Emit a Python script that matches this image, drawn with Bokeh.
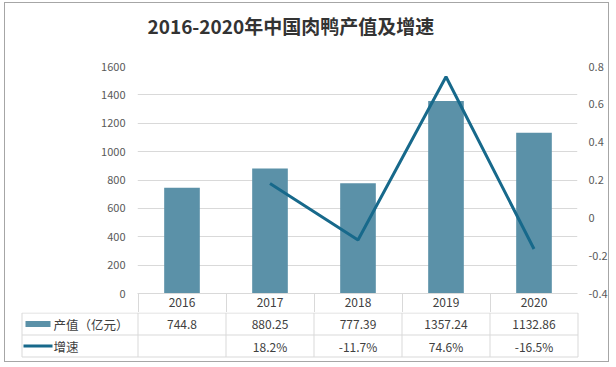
from bokeh.plotting import figure
from bokeh.models import Range1d, LinearAxis, FixedTicker, ColumnDataSource, Title
from bokeh.embed import file_html
from bokeh.resources import INLINE
from bokeh.core.properties import value

# ---------------- data ----------------
years = ["2016", "2017", "2018", "2019", "2020"]
output_value = [744.8, 880.25, 777.39, 1357.24, 1132.86]   # 产值（亿元）
growth = [None, 0.182, -0.117, 0.746, -0.165]             # 增速
left_ticks = [0, 200, 400, 600, 800, 1000, 1200, 1400, 1600]
right_ticks = [-0.4, -0.2, 0, 0.2, 0.4, 0.6, 0.8]
right_tick_labels = ["-0.4", "-0.2", "0", "0.2", "0.4", "0.6", "0.8"]
title_text = "2016-2020年中国肉鸭产值及增速"
series_names = ["产值（亿元）", "增速"]

# ---------------- style ----------------
FONT = "Noto Sans CJK SC"
BAR = "#5B91A8"
LINE = "#17698B"
GRID = "#D9D9D9"
TXT = "#404040"
AXT = "#595959"
FRAME = "1px solid #A6A6A6"

W = 605
PX = 88.0            # pixels per category
HP = 0.5 / PX        # half pixel, keeps 1px lines crisp
n = len(years)
centers = [i + 0.5 for i in range(n)]

# ---------------- chart ----------------
top = figure(width=W, height=310, x_range=Range1d(-HP, n - HP), y_range=Range1d(0, 1600),
             title=None, output_backend="svg", toolbar_location=None,
             min_border_left=132, min_border_right=33, min_border_top=63, min_border_bottom=20,
             styles={"margin-top": "2px", "margin-left": "4px",
                     "border-top": FRAME, "border-left": FRAME, "border-right": FRAME})
top.extra_y_ranges = {"g": Range1d(-0.4, 0.8)}
top.outline_line_color = None
top.background_fill_color = "white"
top.border_fill_color = "white"
top.xgrid.grid_line_color = None
top.ygrid.grid_line_color = GRID
top.ygrid.ticker = FixedTicker(ticks=left_ticks)

# spacer between frame and title, then the title itself
top.add_layout(Title(text=" ", text_font=FONT, text_font_size="1px", standoff=25), "above")
top.add_layout(Title(text=title_text, text_font=FONT, text_font_size="19px",
                     text_font_style="bold", text_color="#333333", align="left",
                     offset=10, standoff=0), "above")

# x axis = header row of the data table
xa = top.xaxis[0]
xa.ticker = FixedTicker(ticks=centers, minor_ticks=list(range(n + 1)))
xa.major_label_overrides = {c: y for c, y in zip(centers, years)}
xa.axis_line_color = GRID
xa.major_tick_line_color = None
xa.major_tick_out = 0
xa.major_tick_in = 0
xa.minor_tick_line_color = GRID
xa.minor_tick_out = 20
xa.minor_tick_in = 0
xa.major_label_text_font = FONT
xa.major_label_text_font_size = "12px"
xa.major_label_text_color = TXT
xa.major_label_standoff = -16

ya = top.yaxis[0]
ya.ticker = FixedTicker(ticks=left_ticks)
ya.axis_line_color = None
ya.major_tick_line_color = None
ya.major_tick_out = 0
ya.major_tick_in = 0
ya.minor_tick_line_color = None
ya.major_label_text_font = FONT
ya.major_label_text_font_size = "11px"
ya.major_label_text_color = AXT
ya.major_label_standoff = 12

ra = LinearAxis(y_range_name="g", ticker=FixedTicker(ticks=right_ticks))
ra.major_label_overrides = {t: l for t, l in zip(right_ticks, right_tick_labels)}
ra.axis_line_color = None
ra.major_tick_line_color = None
ra.major_tick_out = 0
ra.major_tick_in = 0
ra.minor_tick_line_color = None
ra.major_label_text_font = FONT
ra.major_label_text_font_size = "11px"
ra.major_label_text_color = AXT
ra.major_label_standoff = 11
top.add_layout(ra, "right")

src = ColumnDataSource(dict(x=centers, val=output_value))
top.vbar(x="x", top="val", width=0.405, source=src, fill_color=BAR, line_color=None)

gx = [c for c, g in zip(centers, growth) if g is not None]
gy = [g for g in growth if g is not None]
top.line(x=gx, y=gy, y_range_name="g", line_color=LINE, line_width=3)

# ---------------- data table (value rows) ----------------
X0 = 137.5   # page x of the first category boundary
XL = 5       # page x where the figures' content starts
bot = figure(width=W, height=50, x_range=Range1d((XL - X0) / PX, (XL + W - X0) / PX),
             y_range=Range1d(50, 0), output_backend="svg", toolbar_location=None,
             x_axis_location=None, y_axis_location=None,
             min_border_left=0, min_border_right=0, min_border_top=0, min_border_bottom=0,
             styles={"margin-left": "4px", "border-left": FRAME, "border-right": FRAME,
                     "border-bottom": FRAME})
bot.outline_line_color = None
bot.xgrid.grid_line_color = None
bot.ygrid.grid_line_color = None
bot.background_fill_color = "white"
bot.border_fill_color = "white"

left_edge = (21.5 - X0) / PX
row_lines = [0.5, 22.5, 44.5]
bot.segment(x0=[left_edge] * 3, x1=[n] * 3, y0=row_lines, y1=row_lines,
            line_color=GRID, line_width=1)
vx = [left_edge] + list(range(n + 1))
bot.segment(x0=vx, x1=vx, y0=[row_lines[0]] * len(vx), y1=[row_lines[-1]] * len(vx),
            line_color=GRID, line_width=1)

row_c = [(row_lines[i] + row_lines[i + 1]) / 2 for i in range(2)]
bot.text(x=centers, y=[row_c[0]] * n, text=[f"{v:g}" for v in output_value],
         text_font=value(FONT), text_font_size="12px", text_color=TXT,
         text_align="center", text_baseline="middle")
gtxt = ["" if g is None else f"{g * 100:.1f}%" for g in growth]
bot.text(x=centers, y=[row_c[1]] * n, text=gtxt, text_font=value(FONT),
         text_font_size="12px", text_color=TXT, text_align="center", text_baseline="middle")

# legend keys in the table
bot.rect(x=[(37.5 - X0) / PX], y=[row_c[0]], width=25 / PX, height=6,
         fill_color=BAR, line_color=None)
bot.segment(x0=[(23 - X0) / PX], x1=[(52 - X0) / PX], y0=[row_c[1]], y1=[row_c[1]],
            line_color=LINE, line_width=3)
bot.text(x=[(53 - X0) / PX] * 2, y=row_c, text=series_names,
         text_font=value(FONT), text_font_size="12.5px", text_color=TXT,
         text_align="left", text_baseline="middle")

open("out.html", "w").write(file_html([top, bot], INLINE))
